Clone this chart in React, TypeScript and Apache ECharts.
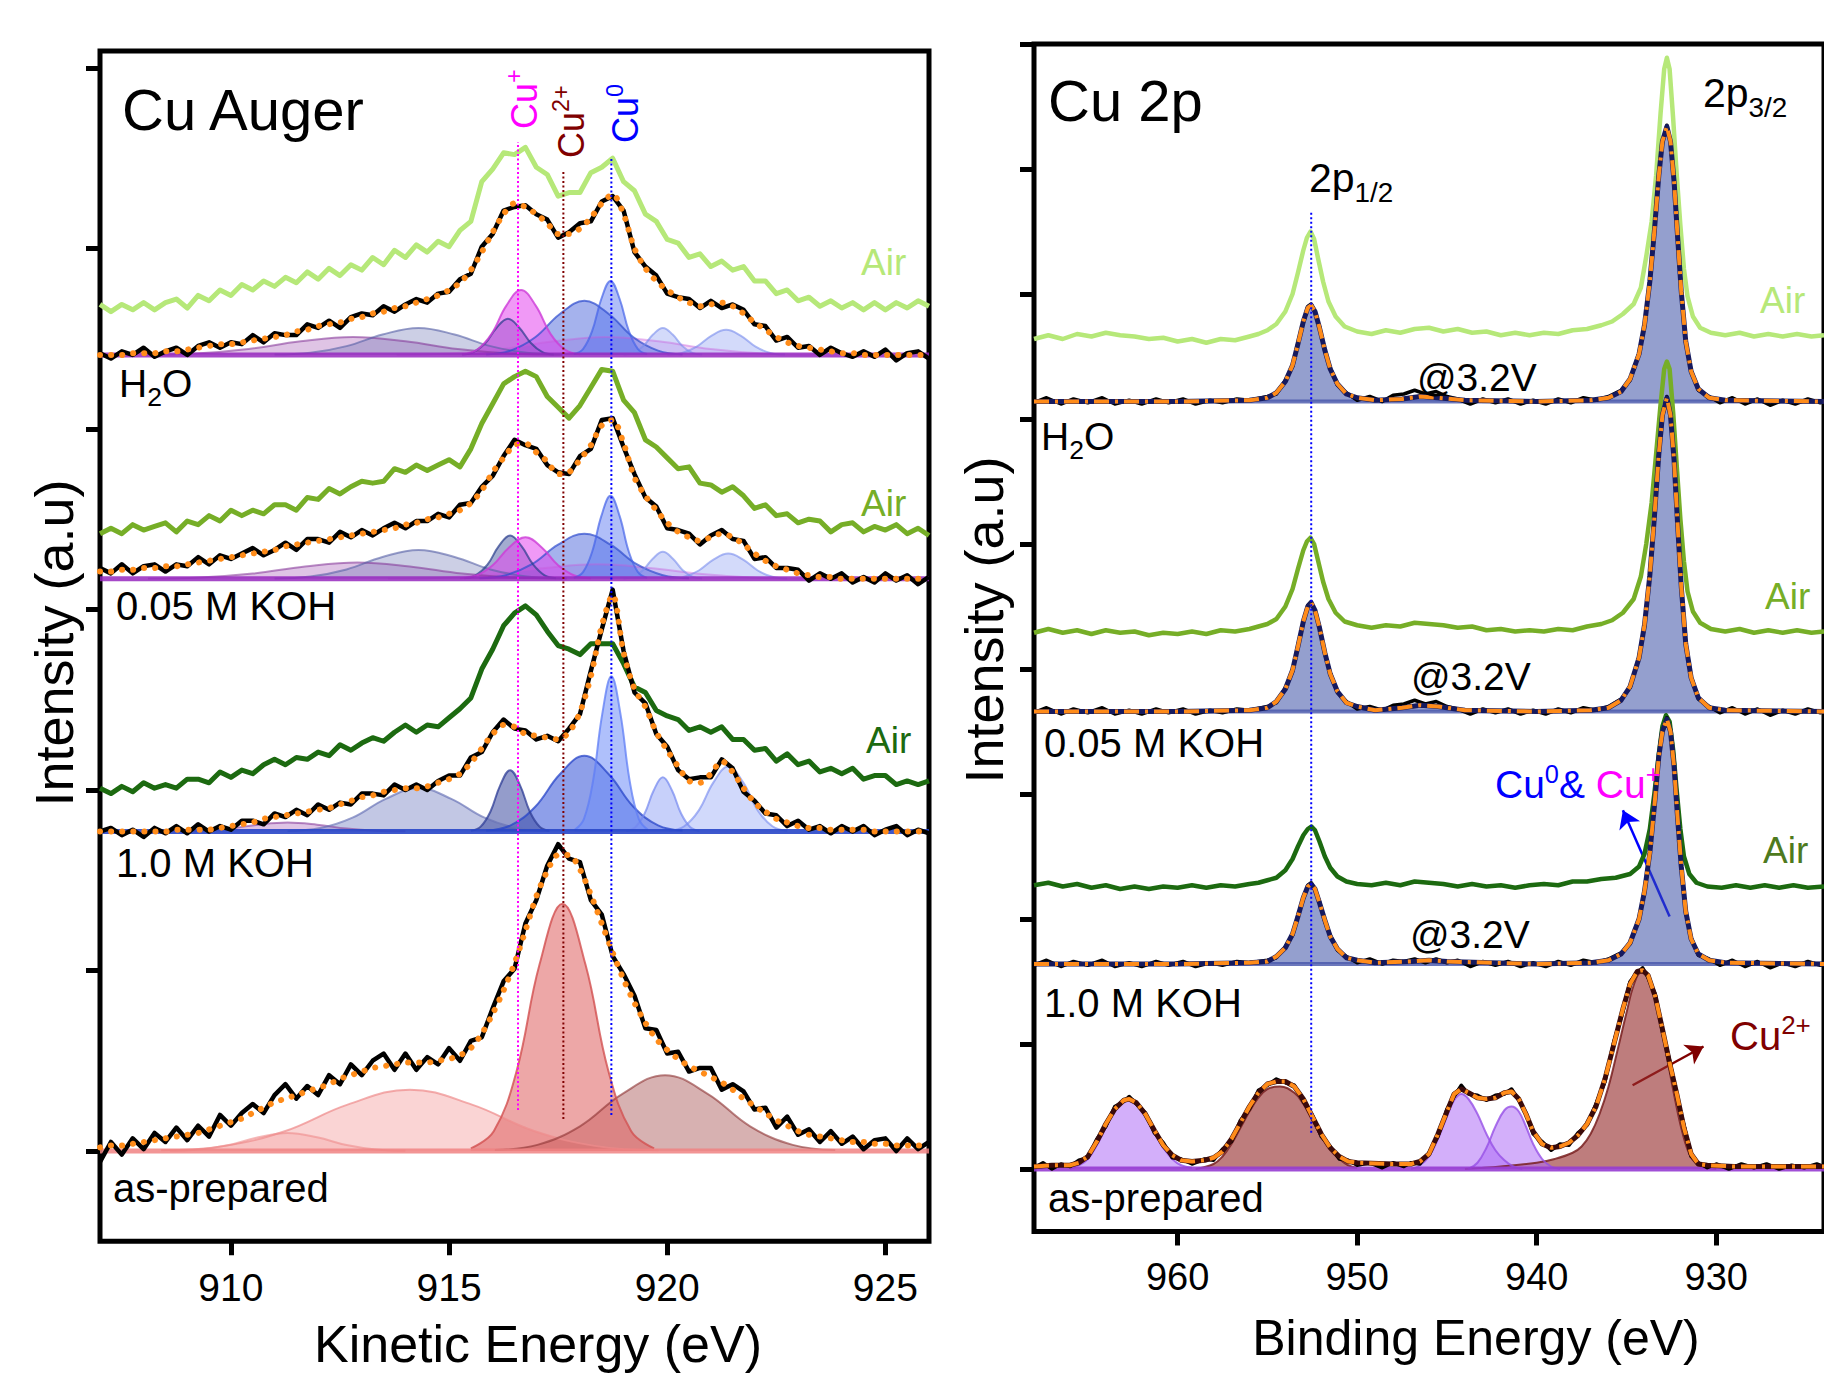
import React, { useEffect, useRef } from "react";
import * as echarts from "echarts";

const FONT = "'Liberation Sans', Arial, Helvetica, sans-serif";

// ================= Cu Auger (left panel) =================
const AUGER_E = [907,907.25,907.5,907.75,908,908.25,908.5,908.75,909,909.25,909.5,909.75,910,910.25,910.5,910.75,911,911.25,911.5,911.75,912,912.25,912.5,912.75,913,913.25,913.5,913.75,914,914.25,914.5,914.75,915,915.25,915.5,915.75,916,916.25,916.5,916.75,917,917.25,917.5,917.75,918,918.25,918.5,918.75,919,919.25,919.5,919.75,920,920.25,920.5,920.75,921,921.25,921.5,921.75,922,922.25,922.5,922.75,923,923.25,923.5,923.75,924,924.25,924.5,924.75,925,925.25,925.5,925.75,926];
const AUGER_TICKS = [910, 915, 920, 925];
const AUGER_YTICKS = [0, 1, 2, 3, 4, 5, 6];

// H2O stack
const AUG_H2O_BASE = 4.41;
const AUG_H2O_FIT = [4.41,4.41,4.41,4.42,4.42,4.42,4.43,4.43,4.44,4.45,4.46,4.47,4.47,4.48,4.49,4.50,4.51,4.52,4.54,4.55,4.57,4.58,4.59,4.61,4.62,4.64,4.65,4.67,4.68,4.70,4.72,4.74,4.77,4.81,4.88,4.98,5.09,5.19,5.25,5.23,5.19,5.14,5.08,5.08,5.11,5.17,5.25,5.30,5.19,5.00,4.89,4.82,4.77,4.73,4.70,4.68,4.69,4.70,4.68,4.64,4.59,4.55,4.51,4.48,4.46,4.45,4.44,4.43,4.42,4.42,4.41,4.41,4.41,4.41,4.41,4.41,4.41];
const AUG_H2O_DATA = [4.42,4.39,4.43,4.41,4.45,4.40,4.43,4.45,4.41,4.46,4.48,4.45,4.48,4.47,4.52,4.48,4.53,4.52,4.52,4.58,4.56,4.60,4.56,4.62,4.64,4.63,4.68,4.65,4.69,4.72,4.70,4.75,4.76,4.83,4.86,5.01,5.08,5.21,5.23,5.24,5.19,5.16,5.06,5.09,5.14,5.15,5.26,5.29,5.21,4.98,4.90,4.85,4.75,4.73,4.72,4.67,4.71,4.67,4.69,4.66,4.58,4.57,4.49,4.51,4.45,4.46,4.41,4.45,4.42,4.40,4.43,4.40,4.44,4.38,4.42,4.43,4.39];
const AUG_AIR1 = [4.69,4.65,4.69,4.66,4.70,4.66,4.70,4.72,4.67,4.74,4.71,4.77,4.74,4.80,4.77,4.82,4.79,4.84,4.81,4.87,4.83,4.89,4.85,4.91,4.88,4.95,4.91,4.99,4.95,5.02,4.98,5.04,5.01,5.10,5.15,5.37,5.44,5.53,5.52,5.56,5.45,5.41,5.29,5.31,5.31,5.42,5.45,5.50,5.37,5.32,5.19,5.15,5.05,5.03,4.95,4.97,4.90,4.93,4.88,4.90,4.82,4.82,4.75,4.77,4.71,4.73,4.68,4.71,4.67,4.70,4.66,4.70,4.66,4.70,4.67,4.71,4.68];
const AUG_H2O_PURPLE = [[908.0,.001],[909.2,.008],[910.4,.033],[911.6,.076],[912.8,.10],[914.0,.076],[915.2,.033],[916.4,.008],[917.6,.001]];
const AUG_H2O_GRAYBLUE = [[911.0,.002],[911.825,.012],[912.65,.049],[913.475,.113],[914.3,.15],[915.125,.113],[915.95,.049],[916.775,.012],[917.6,.002]];
const AUG_H2O_SLATE = [[915.3,.002],[915.56,.016],[915.83,.065],[916.09,.151],[916.35,.20],[916.61,.151],[916.88,.065],[917.14,.016],[917.4,.002]];
const AUG_H2O_CUP = [[915.3,.004],[915.64,.029],[915.975,.117],[916.31,.272],[916.65,.36],[916.99,.272],[917.325,.117],[917.66,.029],[918.0,.004]];
const AUG_H2O_BLUEB = [[915.85,.003],[916.41,.024],[916.975,.098],[917.54,.227],[918.1,.30],[918.66,.227],[919.225,.098],[919.79,.024],[920.35,.003]];
const AUG_H2O_CU0 = [[917.86,.005],[918.07,.033],[918.28,.133],[918.49,.310],[918.7,.41],[918.91,.310],[919.12,.133],[919.33,.033],[919.54,.005]];
const AUG_H2O_LB1 = [[919.0,.002],[919.225,.012],[919.45,.049],[919.675,.113],[919.9,.15],[920.125,.113],[920.35,.049],[920.575,.012],[920.8,.002]];
const AUG_H2O_LB2 = [[920.0,.002],[920.34,.011],[920.675,.046],[921.01,.106],[921.35,.14],[921.69,.106],[922.025,.046],[922.36,.011],[922.7,.002]];
const AUG_H2O_MAGB = [[913.8,.001],[915.0,.008],[916.2,.033],[917.4,.076],[918.6,.10],[919.8,.076],[921.0,.033],[922.2,.008],[923.4,.001]];

// 0.05 M KOH stack
const AUG_K005_BASE = 3.17;
const AUG_K005_FIT = [3.21,3.21,3.22,3.22,3.23,3.23,3.24,3.24,3.25,3.26,3.27,3.28,3.29,3.30,3.31,3.32,3.33,3.35,3.36,3.37,3.38,3.39,3.40,3.41,3.42,3.43,3.44,3.45,3.47,3.48,3.50,3.51,3.53,3.55,3.59,3.66,3.76,3.84,3.91,3.92,3.87,3.82,3.75,3.76,3.83,3.91,4.02,4.05,3.92,3.73,3.63,3.55,3.48,3.43,3.40,3.38,3.40,3.42,3.40,3.36,3.31,3.27,3.24,3.22,3.20,3.19,3.18,3.18,3.17,3.17,3.17,3.17,3.17,3.17,3.17,3.17,3.17];
const AUG_K005_DATA = [3.23,3.20,3.25,3.20,3.24,3.25,3.21,3.25,3.24,3.29,3.25,3.30,3.28,3.31,3.34,3.30,3.33,3.37,3.33,3.39,3.39,3.37,3.43,3.40,3.44,3.41,3.45,3.48,3.45,3.49,3.49,3.53,3.51,3.58,3.59,3.68,3.74,3.85,3.94,3.91,3.89,3.80,3.76,3.75,3.85,3.89,4.05,4.06,3.90,3.75,3.62,3.57,3.45,3.44,3.42,3.36,3.41,3.44,3.39,3.38,3.28,3.29,3.23,3.23,3.22,3.16,3.20,3.17,3.20,3.15,3.18,3.15,3.20,3.16,3.19,3.14,3.18];
const AUG_AIR2 = [3.42,3.45,3.42,3.47,3.44,3.46,3.48,3.43,3.49,3.47,3.52,3.49,3.55,3.52,3.55,3.53,3.58,3.58,3.55,3.62,3.61,3.67,3.64,3.68,3.71,3.70,3.71,3.78,3.76,3.80,3.77,3.80,3.83,3.79,3.89,4.03,4.14,4.25,4.29,4.32,4.29,4.18,4.12,4.06,4.13,4.23,4.33,4.32,4.16,4.09,3.94,3.90,3.84,3.78,3.79,3.70,3.69,3.65,3.68,3.63,3.56,3.58,3.52,3.53,3.48,3.50,3.49,3.43,3.47,3.48,3.43,3.46,3.44,3.47,3.42,3.45,3.41];
const AUG_K005_PURPLE = [[908.1,.001],[909.3,.007],[910.5,.029],[911.7,.068],[912.9,.09],[914.1,.068],[915.3,.029],[916.5,.007],[917.7,.001]];
const AUG_K005_GRAYBLUE = [[911.0,.002],[911.825,.013],[912.65,.052],[913.475,.121],[914.3,.16],[915.125,.121],[915.95,.052],[916.775,.013],[917.6,.002]];
const AUG_K005_SLATE = [[915.35,.003],[915.61,.019],[915.88,.078],[916.14,.181],[916.4,.24],[916.66,.181],[916.93,.078],[917.19,.019],[917.45,.003]];
const AUG_K005_CUP = [[915.25,.003],[915.625,.018],[916.0,.075],[916.375,.174],[916.75,.23],[917.125,.174],[917.5,.075],[917.875,.018],[918.25,.003]];
const AUG_K005_BLUEB = [[915.7,.003],[916.3,.020],[916.9,.081],[917.5,.189],[918.1,.25],[918.7,.189],[919.3,.081],[919.9,.020],[920.5,.003]];
const AUG_K005_CU0 = [[917.86,.005],[918.07,.037],[918.28,.150],[918.49,.347],[918.7,.46],[918.91,.347],[919.12,.150],[919.33,.037],[919.54,.005]];
const AUG_K005_LB1 = [[919.0,.002],[919.225,.012],[919.45,.049],[919.675,.113],[919.9,.15],[920.125,.113],[920.35,.049],[920.575,.012],[920.8,.002]];
const AUG_K005_LB2 = [[920.05,.002],[920.39,.011],[920.725,.046],[921.06,.106],[921.4,.14],[921.74,.106],[922.075,.046],[922.41,.011],[922.75,.002]];
const AUG_K005_MAGB = [[913.6,.001],[914.8,.006],[916.0,.026],[917.2,.060],[918.4,.08],[919.6,.060],[920.8,.026],[922.0,.006],[923.2,.001]];

// 1.0 M KOH stack
const AUG_K10_BASE = 1.77;
const AUG_K10_FIT = [1.77,1.77,1.77,1.77,1.77,1.77,1.77,1.78,1.78,1.78,1.78,1.79,1.80,1.81,1.82,1.84,1.85,1.86,1.87,1.88,1.89,1.90,1.92,1.94,1.96,1.97,1.99,2.00,2.01,2.01,2.02,2.04,2.06,2.09,2.15,2.23,2.31,2.36,2.35,2.31,2.30,2.29,2.28,2.32,2.43,2.63,2.91,3.08,2.76,2.56,2.46,2.32,2.22,2.13,2.05,2.04,2.09,2.16,2.10,2.01,1.93,1.88,1.84,1.82,1.80,1.79,1.79,1.78,1.78,1.78,1.78,1.77,1.77,1.77,1.77,1.77,1.77];
const AUG_K10_DATA = [1.77,1.79,1.75,1.78,1.74,1.79,1.76,1.80,1.76,1.81,1.77,1.80,1.78,1.83,1.83,1.81,1.87,1.85,1.89,1.86,1.92,1.89,1.93,1.92,1.98,1.98,1.97,2.03,2.00,2.03,2.00,2.05,2.08,2.08,2.18,2.21,2.32,2.39,2.34,2.33,2.28,2.30,2.27,2.34,2.42,2.66,2.89,3.11,2.77,2.54,2.48,2.31,2.24,2.11,2.06,2.07,2.07,2.17,2.12,1.99,1.94,1.87,1.86,1.80,1.83,1.78,1.80,1.76,1.80,1.77,1.80,1.75,1.78,1.80,1.75,1.78,1.76];
const AUG_AIR3 = [2.01,1.98,2.02,1.99,2.04,2.01,2.03,2.01,2.06,2.06,2.04,2.10,2.07,2.11,2.09,2.14,2.17,2.14,2.18,2.17,2.21,2.19,2.25,2.22,2.26,2.29,2.27,2.32,2.36,2.32,2.36,2.35,2.40,2.45,2.51,2.67,2.78,2.91,2.98,3.02,2.97,2.88,2.80,2.78,2.75,2.81,2.81,2.81,2.70,2.57,2.54,2.44,2.41,2.39,2.33,2.35,2.32,2.35,2.28,2.28,2.22,2.23,2.16,2.20,2.14,2.16,2.10,2.12,2.09,2.12,2.06,2.08,2.08,2.03,2.05,2.03,2.05];
const AUG_K10_GRAYBLUE = [[911.3,.003],[912.05,.019],[912.8,.078],[913.55,.181],[914.3,.24],[915.05,.181],[915.8,.078],[916.55,.019],[917.3,.003]];
const AUG_K10_SLATE = [[915.5,.004],[915.725,.027],[915.95,.111],[916.175,.257],[916.4,.34],[916.625,.257],[916.85,.111],[917.075,.027],[917.3,.004]];
const AUG_K10_BLUEB = [[915.85,.005],[916.41,.034],[916.975,.137],[917.54,.317],[918.1,.42],[918.66,.317],[919.225,.137],[919.79,.034],[920.35,.005]];
const AUG_K10_CU0 = [[917.88,.009],[918.09,.069],[918.3,.280],[918.51,.649],[918.72,.86],[918.93,.649],[919.14,.280],[919.35,.069],[919.56,.009]];
const AUG_K10_LB1 = [[919.06,.003],[919.27,.024],[919.48,.098],[919.69,.227],[919.9,.30],[920.11,.227],[920.32,.098],[920.53,.024],[920.74,.003]];
const AUG_K10_LB2 = [[920.05,.004],[920.39,.029],[920.725,.117],[921.06,.272],[921.4,.36],[921.74,.272],[922.075,.117],[922.41,.029],[922.75,.004]];
const AUG_K10_FAINT = [[908.6,.001],[909.275,.004],[909.95,.016],[910.625,.038],[911.3,.05],[911.975,.038],[912.65,.016],[913.325,.004],[914.0,.001]];

// as-prepared stack
const AUG_AP_BASE = 0;
const AUG_AP_FIT = [0.02,0.03,0.03,0.04,0.05,0.06,0.07,0.08,0.09,0.10,0.12,0.14,0.16,0.18,0.21,0.24,0.27,0.29,0.31,0.33,0.35,0.37,0.40,0.42,0.44,0.46,0.47,0.48,0.49,0.49,0.49,0.50,0.51,0.53,0.57,0.65,0.76,0.89,1.04,1.22,1.41,1.55,1.64,1.64,1.56,1.42,1.26,1.10,0.95,0.82,0.71,0.62,0.56,0.51,0.47,0.44,0.41,0.38,0.34,0.29,0.25,0.21,0.17,0.14,0.11,0.09,0.08,0.07,0.06,0.05,0.05,0.04,0.04,0.03,0.03,0.03,0.03];
const AUG_AP_DATA = [-0.06,0.05,-0.02,0.07,0.01,0.10,0.05,0.13,0.06,0.14,0.08,0.20,0.14,0.21,0.26,0.21,0.31,0.37,0.29,0.36,0.31,0.42,0.37,0.48,0.42,0.50,0.54,0.45,0.54,0.45,0.52,0.48,0.57,0.50,0.61,0.63,0.79,0.94,1.01,1.26,1.39,1.58,1.70,1.62,1.60,1.39,1.31,1.08,0.98,0.86,0.68,0.67,0.54,0.55,0.44,0.46,0.46,0.34,0.37,0.33,0.23,0.24,0.13,0.19,0.09,0.12,0.05,0.11,0.04,0.08,0.01,0.06,0.07,0.00,0.07,0.01,0.05];
const AUG_AP_PINKS = [[908.6,.001],[909.275,.008],[909.95,.033],[910.625,.076],[911.3,.10],[911.975,.076],[912.65,.033],[913.325,.008],[914.0,.001]];
const AUG_AP_PINKB = [[908.4,.004],[909.825,.027],[911.25,.111],[912.675,.257],[914.1,.34],[915.525,.257],[916.95,.111],[918.375,.027],[919.8,.004]];
const AUG_AP_RED = [[915.5,.015],[916.025,.110],[916.55,.445],[917.075,1.034],[917.6,1.37],[918.125,1.034],[918.65,.445],[919.175,.110],[919.7,.015]];
const AUG_AP_DARKRED = [[916.05,.005],[917.025,.034],[918.0,.137],[918.975,.317],[919.95,.42],[920.925,.317],[921.9,.137],[922.875,.034],[923.85,.005]];

// reference lines (Cu+, Cu2+, Cu0 kinetic energies)
const AUG_CUP_LINE = [[916.58, 0.227], [916.58, 5.59]];
const AUG_CU2_LINE = [[917.62, 0.177], [917.62, 5.435]];
const AUG_CU0_LINE = [[918.72, 0.2], [918.72, 5.5]];

// ================= Cu 2p (right panel) =================
const XPS_TICKS = [960, 950, 940, 930];
const XPS_YTICKS = [0, 1, 2, 3, 4, 5, 6, 7, 8, 9];

const XPS_AIR1 = [[968,6.64],[967.2,6.67],[966.4,6.64],[965.6,6.68],[964.8,6.66],[964,6.69],[963.2,6.67],[962.4,6.66],[961.6,6.64],[960.8,6.65],[960,6.62],[959.2,6.64],[958.4,6.61],[957.6,6.64],[956.8,6.63],[956,6.66],[955.5,6.68],[955,6.71],[954.5,6.76],[954,6.86],[953.6,7.00],[953.3,7.17],[953,7.35],[952.8,7.45],[952.6,7.50],[952.4,7.44],[952.2,7.30],[951.9,7.10],[951.6,6.94],[951.2,6.82],[950.7,6.74],[950,6.70],[949.2,6.68],[948.4,6.71],[947.6,6.69],[946.8,6.72],[946,6.73],[945.2,6.70],[944.4,6.72],[943.6,6.69],[942.8,6.70],[942,6.67],[941.2,6.69],[940.4,6.67],[939.6,6.69],[938.8,6.68],[938,6.71],[937.2,6.72],[936.4,6.75],[935.8,6.78],[935.2,6.84],[934.6,6.92],[934.2,7.05],[933.9,7.30],[933.6,7.58],[933.35,7.95],[933.1,8.45],[932.9,8.80],[932.75,8.89],[932.6,8.80],[932.4,8.40],[932.2,7.95],[932,7.55],[931.8,7.20],[931.6,6.98],[931.3,6.82],[930.9,6.73],[930.3,6.69],[929.5,6.67],[928.7,6.69],[927.9,6.66],[927.1,6.68],[926.3,6.66],[925.5,6.68],[924.7,6.66],[924,6.67]];
const XPS_H2O_BASE = 6.14;
const XPS_H2O_FIT = [[968,6.14],[960,6.14],[956,6.15],[955,6.17],[954.5,6.21],[954,6.30],[953.6,6.43],[953.3,6.60],[953,6.78],[952.75,6.89],[952.56,6.91],[952.35,6.86],[952.1,6.73],[951.8,6.55],[951.5,6.40],[951.1,6.28],[950.6,6.20],[950,6.17],[949,6.15],[947.5,6.16],[946.5,6.18],[945.5,6.17],[944,6.15],[940,6.14],[937,6.15],[936,6.17],[935.3,6.22],[934.8,6.32],[934.3,6.52],[934,6.75],[933.7,7.10],[933.45,7.50],[933.2,7.95],[933,8.22],[932.75,8.34],[932.55,8.22],[932.35,7.90],[932.15,7.45],[931.95,7.02],[931.7,6.62],[931.4,6.38],[931,6.24],[930.4,6.17],[929.5,6.15],[924,6.14]];
const XPS_H2O_DATA = [[968,6.13],[967.3,6.17],[966.5,6.12],[965.8,6.16],[965,6.13],[964.2,6.17],[963.5,6.12],[962.7,6.15],[962,6.12],[961.2,6.16],[960.5,6.13],[959.7,6.16],[959,6.12],[958.2,6.15],[957.5,6.13],[956.7,6.16],[956,6.15],[955,6.18],[954.5,6.20],[954,6.31],[953.6,6.42],[953.3,6.61],[953,6.77],[952.75,6.90],[952.56,6.92],[952.35,6.85],[952.1,6.74],[951.8,6.54],[951.5,6.41],[951.1,6.27],[950.6,6.21],[950,6.15],[949.3,6.18],[948.6,6.14],[948,6.19],[947.4,6.20],[946.8,6.23],[946.2,6.20],[945.6,6.22],[945,6.18],[944.4,6.16],[943.7,6.12],[943,6.16],[942.3,6.13],[941.6,6.16],[940.9,6.12],[940.2,6.15],[939.5,6.12],[938.8,6.16],[938.1,6.13],[937.4,6.17],[936.7,6.15],[936,6.18],[935.3,6.23],[934.8,6.31],[934.3,6.53],[934,6.74],[933.7,7.11],[933.45,7.49],[933.2,7.96],[933,8.21],[932.75,8.35],[932.55,8.21],[932.35,7.91],[932.15,7.44],[931.95,7.03],[931.7,6.61],[931.4,6.39],[931,6.23],[930.4,6.18],[929.8,6.13],[929.1,6.17],[928.4,6.12],[927.7,6.16],[927,6.11],[926.3,6.15],[925.6,6.12],[924.9,6.16],[924.2,6.13],[924,6.14]];

const XPS_AIR2 = [[968,4.29],[967.2,4.32],[966.4,4.29],[965.6,4.31],[964.8,4.28],[964,4.31],[963.2,4.29],[962.4,4.30],[961.6,4.27],[960.8,4.29],[960,4.28],[959.2,4.30],[958.4,4.28],[957.6,4.31],[956.8,4.30],[956,4.32],[955.5,4.34],[955,4.36],[954.5,4.40],[954,4.50],[953.6,4.64],[953.3,4.80],[953,4.95],[952.8,5.02],[952.6,5.05],[952.4,5.00],[952.2,4.88],[951.9,4.70],[951.6,4.56],[951.2,4.45],[950.7,4.38],[950,4.35],[949.2,4.33],[948.4,4.35],[947.6,4.34],[946.8,4.37],[946,4.36],[945.2,4.35],[944.4,4.33],[943.6,4.34],[942.8,4.31],[942,4.32],[941.2,4.30],[940.4,4.31],[939.6,4.30],[938.8,4.32],[938,4.31],[937.2,4.34],[936.4,4.36],[935.8,4.39],[935.2,4.45],[934.6,4.56],[934.2,4.74],[933.9,5.00],[933.6,5.33],[933.35,5.72],[933.1,6.12],[932.9,6.40],[932.75,6.46],[932.6,6.40],[932.4,6.05],[932.2,5.62],[932,5.20],[931.8,4.86],[931.6,4.62],[931.3,4.46],[930.9,4.37],[930.3,4.32],[929.5,4.30],[928.7,4.32],[927.9,4.29],[927.1,4.31],[926.3,4.29],[925.5,4.31],[924.7,4.29],[924,4.30]];
const XPS_K005_BASE = 3.66;
const XPS_K005_FIT = [[968,3.66],[960,3.66],[956,3.67],[955,3.69],[954.5,3.74],[954,3.84],[953.6,3.99],[953.3,4.18],[953,4.38],[952.75,4.50],[952.56,4.53],[952.35,4.47],[952.1,4.33],[951.8,4.13],[951.5,3.96],[951.1,3.82],[950.6,3.73],[950,3.70],[949,3.67],[947.5,3.69],[946.5,3.71],[945.5,3.70],[944,3.67],[940,3.66],[937,3.67],[936,3.69],[935.3,3.75],[934.8,3.86],[934.3,4.09],[934,4.35],[933.7,4.75],[933.45,5.21],[933.2,5.72],[933,6.03],[932.75,6.17],[932.55,6.03],[932.35,5.67],[932.15,5.15],[931.95,4.66],[931.7,4.20],[931.4,3.93],[931,3.77],[930.4,3.69],[929.5,3.67],[924,3.66]];
const XPS_K005_DATA = [[968,3.65],[967.3,3.69],[966.5,3.64],[965.8,3.68],[965,3.65],[964.2,3.69],[963.5,3.64],[962.7,3.67],[962,3.64],[961.2,3.68],[960.5,3.65],[959.7,3.68],[959,3.64],[958.2,3.67],[957.5,3.65],[956.7,3.68],[956,3.67],[955,3.70],[954.5,3.73],[954,3.85],[953.6,3.98],[953.3,4.19],[953,4.37],[952.75,4.51],[952.56,4.54],[952.35,4.46],[952.1,4.34],[951.8,4.12],[951.5,3.97],[951.1,3.81],[950.6,3.74],[950,3.68],[949.3,3.70],[948.6,3.67],[948,3.71],[947.4,3.72],[946.8,3.75],[946.2,3.72],[945.6,3.74],[945,3.70],[944.4,3.68],[943.7,3.64],[943,3.68],[942.3,3.65],[941.6,3.68],[940.9,3.64],[940.2,3.67],[939.5,3.64],[938.8,3.68],[938.1,3.65],[937.4,3.69],[936.7,3.67],[936,3.70],[935.3,3.76],[934.8,3.85],[934.3,4.10],[934,4.34],[933.7,4.76],[933.45,5.20],[933.2,5.73],[933,6.02],[932.75,6.18],[932.55,6.02],[932.35,5.68],[932.15,5.14],[931.95,4.67],[931.7,4.19],[931.4,3.94],[931,3.76],[930.4,3.70],[929.8,3.65],[929.1,3.69],[928.4,3.64],[927.7,3.68],[927,3.63],[926.3,3.67],[925.6,3.64],[924.9,3.68],[924.2,3.65],[924,3.66]];

const XPS_AIR3 = [[968,2.27],[967.2,2.29],[966.4,2.26],[965.6,2.28],[964.8,2.25],[964,2.27],[963.2,2.24],[962.4,2.26],[961.6,2.24],[960.8,2.26],[960,2.25],[959.2,2.27],[958.4,2.25],[957.6,2.27],[956.8,2.26],[956,2.28],[955.5,2.29],[955,2.31],[954.5,2.33],[954,2.39],[953.6,2.48],[953.3,2.58],[953,2.67],[952.75,2.72],[952.55,2.74],[952.35,2.71],[952.1,2.62],[951.8,2.50],[951.5,2.41],[951.1,2.34],[950.6,2.30],[950,2.28],[949.2,2.27],[948.4,2.29],[947.6,2.27],[946.8,2.30],[946,2.29],[945.2,2.28],[944.4,2.26],[943.6,2.28],[942.8,2.26],[942,2.27],[941.2,2.25],[940.4,2.27],[939.6,2.28],[938.8,2.27],[938,2.30],[937.2,2.30],[936.4,2.32],[935.6,2.33],[934.8,2.36],[934.3,2.42],[934,2.52],[933.7,2.72],[933.45,3.00],[933.2,3.32],[933,3.54],[932.8,3.63],[932.6,3.58],[932.4,3.35],[932.2,3.02],[932,2.72],[931.8,2.50],[931.5,2.36],[931.1,2.29],[930.5,2.26],[929.7,2.25],[928.9,2.27],[928.1,2.25],[927.3,2.27],[926.5,2.25],[925.7,2.27],[924.9,2.25],[924,2.26]];
const XPS_K10_BASE = 1.64;
const XPS_K10_FIT = [[968,1.64],[960,1.64],[956,1.65],[955,1.66],[954.5,1.70],[954,1.77],[953.6,1.88],[953.3,2.02],[953,2.17],[952.75,2.26],[952.56,2.28],[952.35,2.24],[952.1,2.13],[951.8,1.99],[951.5,1.86],[951.1,1.76],[950.6,1.69],[950,1.67],[949,1.65],[947,1.66],[946,1.67],[945,1.66],[940,1.64],[937,1.65],[936,1.67],[935.3,1.72],[934.8,1.81],[934.3,2.00],[934,2.22],[933.7,2.53],[933.45,2.90],[933.2,3.30],[933,3.50],[932.75,3.60],[932.55,3.50],[932.35,3.22],[932.15,2.80],[931.95,2.42],[931.7,2.06],[931.4,1.84],[931,1.72],[930.4,1.67],[929.5,1.65],[924,1.64]];
const XPS_K10_DATA = [[968,1.63],[967.3,1.67],[966.5,1.62],[965.8,1.66],[965,1.63],[964.2,1.67],[963.5,1.62],[962.7,1.65],[962,1.62],[961.2,1.66],[960.5,1.63],[959.7,1.66],[959,1.62],[958.2,1.65],[957.5,1.63],[956.7,1.66],[956,1.65],[955,1.67],[954.5,1.69],[954,1.78],[953.6,1.87],[953.3,2.03],[953,2.16],[952.75,2.27],[952.56,2.29],[952.35,2.23],[952.1,2.14],[951.8,1.98],[951.5,1.87],[951.1,1.75],[950.6,1.70],[950,1.65],[949.3,1.68],[948.6,1.64],[948,1.67],[947.4,1.66],[946.8,1.68],[946.2,1.65],[945.6,1.68],[945,1.65],[944.4,1.67],[943.7,1.62],[943,1.66],[942.3,1.63],[941.6,1.66],[940.9,1.62],[940.2,1.65],[939.5,1.62],[938.8,1.66],[938.1,1.63],[937.4,1.67],[936.7,1.65],[936,1.68],[935.3,1.73],[934.8,1.80],[934.3,2.01],[934,2.21],[933.7,2.54],[933.45,2.89],[933.2,3.31],[933,3.49],[932.75,3.61],[932.55,3.49],[932.35,3.23],[932.15,2.79],[931.95,2.43],[931.7,2.05],[931.4,1.85],[931,1.71],[930.4,1.68],[929.8,1.63],[929.1,1.67],[928.4,1.62],[927.7,1.66],[927,1.61],[926.3,1.65],[925.6,1.62],[924.9,1.66],[924.2,1.63],[924,1.64]];

const XPS_AP_BASE = 0;
const XPS_AP_FIT = [[968,0.02],[967,0.03],[966,0.03],[965.5,0.05],[965,0.10],[964.5,0.22],[964,0.36],[963.5,0.48],[963,0.55],[962.7,0.56],[962.3,0.53],[961.8,0.44],[961.3,0.31],[960.8,0.19],[960.3,0.11],[959.8,0.07],[959.2,0.06],[958.5,0.07],[958,0.09],[957.5,0.14],[957,0.24],[956.5,0.37],[956,0.50],[955.5,0.61],[955,0.68],[954.5,0.70],[954,0.70],[953.5,0.66],[953,0.56],[952.5,0.42],[952,0.28],[951.5,0.17],[951,0.10],[950.5,0.06],[950,0.05],[948,0.04],[947,0.04],[946.5,0.06],[946,0.12],[945.5,0.28],[945,0.46],[944.6,0.60],[944.2,0.64],[943.8,0.61],[943.3,0.57],[942.8,0.56],[942.3,0.57],[941.8,0.61],[941.4,0.62],[941,0.56],[940.6,0.44],[940.2,0.30],[939.7,0.20],[939.2,0.17],[938.7,0.18],[938.2,0.21],[937.7,0.27],[937.2,0.36],[936.7,0.50],[936.2,0.72],[935.7,1.00],[935.2,1.28],[934.8,1.48],[934.4,1.58],[934.1,1.59],[933.8,1.55],[933.4,1.38],[933,1.12],[932.6,0.85],[932.2,0.60],[931.8,0.33],[931.4,0.12],[931,0.04],[930.5,0.03],[929,0.02],[927,0.02],[924,0.02]];
const XPS_AP_DATA = [[968,0.01],[967.5,0.05],[967,0.00],[966.5,0.04],[966,0.02],[965.5,0.07],[965,0.09],[964.5,0.24],[964,0.34],[963.5,0.50],[963,0.54],[962.7,0.58],[962.3,0.52],[961.8,0.45],[961.3,0.29],[960.8,0.21],[960.3,0.09],[959.8,0.08],[959.2,0.04],[958.5,0.08],[958,0.07],[957.5,0.16],[957,0.22],[956.5,0.39],[956,0.48],[955.5,0.63],[955,0.67],[954.5,0.72],[954,0.69],[953.5,0.67],[953,0.54],[952.5,0.43],[952,0.26],[951.5,0.18],[951,0.08],[950.5,0.07],[950,0.03],[949.3,0.05],[948.6,0.01],[948,0.05],[947.4,0.02],[947,0.05],[946.5,0.04],[946,0.13],[945.5,0.26],[945,0.48],[944.6,0.58],[944.2,0.67],[943.8,0.60],[943.3,0.59],[942.8,0.55],[942.3,0.59],[941.8,0.60],[941.4,0.64],[941,0.55],[940.6,0.45],[940.2,0.28],[939.7,0.22],[939.2,0.15],[938.7,0.20],[938.2,0.19],[937.7,0.29],[937.2,0.35],[936.7,0.52],[936.2,0.70],[935.7,1.02],[935.2,1.26],[934.8,1.50],[934.4,1.57],[934.1,1.61],[933.8,1.53],[933.4,1.40],[933,1.10],[932.6,0.87],[932.2,0.58],[931.8,0.35],[931.4,0.10],[931,0.05],[930.5,0.01],[930,0.04],[929.3,0.00],[928.6,0.04],[927.9,0.01],[927.2,0.04],[926.5,0.00],[925.8,0.03],[925.1,0.01],[924.4,0.04],[924,0.02]];
const XPS_AP_PURPLE1 = [[966,0],[965.5,.03],[965,.08],[964.5,.19],[964,.33],[963.5,.46],[963,.54],[962.7,.55],[962.3,.52],[961.8,.42],[961.3,.29],[960.8,.17],[960.3,.08],[959.8,.03],[959.2,.01]];
const XPS_AP_BROWN1 = [[959,0],[958,.04],[957.5,.10],[957,.20],[956.5,.33],[956,.46],[955.5,.57],[955,.64],[954.3,.66],[953.5,.61],[953,.52],[952.5,.39],[952,.26],[951.5,.15],[951,.08],[950.5,.03],[950,.01]];
const XPS_AP_PURPLE2 = [[947,0],[946.5,.03],[946,.10],[945.5,.24],[945,.42],[944.6,.55],[944.2,.60],[943.8,.56],[943.3,.44],[942.8,.28],[942.3,.15],[941.8,.07],[941.3,.02],[940.8,0]];
const XPS_AP_PURPLE3 = [[943.8,0],[943.3,.05],[942.8,.17],[942.3,.34],[941.8,.47],[941.4,.50],[941,.46],[940.6,.34],[940.2,.20],[939.7,.08],[939.2,.02],[938.7,0]];
const XPS_AP_BROWN2 = [[944,0],[942,.02],[940,.05],[939,.08],[938,.13],[937.5,.18],[937,.28],[936.5,.44],[936,.66],[935.5,.95],[935,1.25],[934.6,1.47],[934.2,1.57],[933.9,1.55],[933.5,1.42],[933.1,1.16],[932.7,.86],[932.3,.56],[931.9,.30],[931.5,.12],[931.1,.04],[930.6,.01],[930,0]];

const XPS_2P12_LINE = [[952.56, 0.29], [952.56, 7.67]];
const XPS_ARROW_CU0 = [[932.6, 2.02], [935.2, 2.87]];
const XPS_ARROW_CU2 = [[934.66, 0.67], [930.71, 0.98]];

// ================= helpers =================
const zip = (xs: number[], ys: number[]) => xs.map((x, i) => [x, ys[i]]);
const lift = (pairs: number[][], base: number) => pairs.map(([x, h]) => [x, +(base + h).toFixed(4)]);

function line(data: any[], gi: number, color: string, width: number, opts: any = {}) {
  const s: any = {
    type: "line",
    xAxisIndex: gi,
    yAxisIndex: gi,
    data,
    symbol: "none",
    showSymbol: false,
    silent: true,
    smooth: opts.smooth ?? 0,
    lineStyle: { color, width, type: opts.type ?? "solid", cap: opts.cap ?? "butt", join: "round" },
  };
  if (opts.area) s.areaStyle = opts.area;
  return s;
}
function comp(pairs: number[][], base: number, gi: number, fill: string, stroke: string) {
  return line(lift(pairs, base), gi, stroke, 2, { smooth: 0.4, area: { color: fill, origin: base, opacity: 1 } });
}
function baseLine(base: number, x0: number, x1: number, gi: number, color: string, width: number) {
  return line([[x0, base], [x1, base]], gi, color, width);
}

const T = (text: string, x: number, baseline: number, fs: number, fill = "#000", rich?: any) => ({
  type: "text",
  x,
  y: baseline - 0.347 * fs,
  z: 100,
  silent: true,
  style: {
    text, fontSize: fs, fontFamily: FONT, fill,
    align: "left", verticalAlign: "middle", textAlign: "left", textVerticalAlign: "middle",
    ...(rich ? { rich } : {}),
  },
});
const supRich = (fs: number, fill: string, supFill = fill) => ({
  m: { fontSize: fs, fontFamily: FONT, fill, lineHeight: fs * 1.2, verticalAlign: "middle" },
  s: { fontSize: fs * 0.65, fontFamily: FONT, fill: supFill, lineHeight: fs * 0.65, verticalAlign: "top" },
});
const subRich = (fs: number, fill: string, lh = 1.42) => ({
  m: { fontSize: fs, fontFamily: FONT, fill, lineHeight: fs * lh, verticalAlign: "middle" },
  s: { fontSize: fs * 0.68, fontFamily: FONT, fill, lineHeight: fs * 0.7, verticalAlign: "bottom" },
});
const RT = (text: string, x: number, y: number, fs: number, fill: string, rich: any, align = "left") => ({
  type: "text",
  x,
  y,
  rotation: Math.PI / 2,
  z: 100,
  silent: true,
  style: {
    text, fontSize: fs, fontFamily: FONT, fill, rich,
    align, verticalAlign: "middle", textAlign: align, textVerticalAlign: "middle",
  },
});
const CT = (text: string, cx: number, baseline: number, fs: number) => ({
  type: "text",
  x: cx,
  y: baseline - 0.347 * fs,
  z: 100,
  silent: true,
  style: { text, fontSize: fs, fontFamily: FONT, fill: "#000", align: "center", verticalAlign: "middle", textAlign: "center", textVerticalAlign: "middle" },
});

// colors
const C_ORANGE = "#ff8c1a";
const C_AIR1 = "#b6e879";
const C_AIR2 = "#76ae27";
const C_AIR3 = "#1c6a10";
const C_NAVY = "#161a5e";

function buildOption() {
  const series: any[] = [];
  const L = 0;
  const R = 1;
  const dotted = { type: [0.1, 11], cap: "round" };

  // ---- left components ----
  const pPurple = ["rgba(150,60,170,0.30)", "rgba(130,50,150,0.55)"];
  const pGray = ["rgba(95,105,175,0.32)", "rgba(85,95,165,0.6)"];
  const pSlate = ["rgba(50,70,150,0.45)", "rgba(40,60,140,0.7)"];
  const pMag = ["rgba(228,70,238,0.55)", "rgba(205,60,215,0.8)"];
  const pBlueB = ["rgba(55,85,215,0.45)", "rgba(45,75,205,0.7)"];
  const pCu0 = ["rgba(80,110,240,0.45)", "rgba(70,100,232,0.7)"];
  const pLB = ["rgba(130,150,242,0.35)", "rgba(120,140,236,0.6)"];
  const pMagB = ["rgba(210,100,225,0.25)", "rgba(200,90,220,0.4)"];

  const stackComps = (base: number, list: [number[][], string[]][]) => {
    list.forEach(([d, c]) => series.push(comp(d, base, L, c[0], c[1])));
  };
  stackComps(AUG_H2O_BASE, [
    [AUG_H2O_MAGB, pMagB], [AUG_H2O_PURPLE, pPurple], [AUG_H2O_GRAYBLUE, pGray], [AUG_H2O_BLUEB, pBlueB],
    [AUG_H2O_LB1, pLB], [AUG_H2O_LB2, pLB], [AUG_H2O_SLATE, pSlate], [AUG_H2O_CUP, pMag], [AUG_H2O_CU0, pCu0],
  ]);
  series.push(baseLine(AUG_H2O_BASE, 907, 926, L, "rgba(150,40,190,0.85)", 5));
  stackComps(AUG_K005_BASE, [
    [AUG_K005_MAGB, pMagB], [AUG_K005_PURPLE, pPurple], [AUG_K005_GRAYBLUE, pGray], [AUG_K005_BLUEB, pBlueB],
    [AUG_K005_LB1, pLB], [AUG_K005_LB2, pLB], [AUG_K005_SLATE, pSlate], [AUG_K005_CUP, pMag], [AUG_K005_CU0, pCu0],
  ]);
  series.push(baseLine(AUG_K005_BASE, 907, 926, L, "rgba(150,40,190,0.85)", 5));
  stackComps(AUG_K10_BASE, [
    [AUG_K10_FAINT, pPurple], [AUG_K10_GRAYBLUE, ["rgba(120,130,195,0.45)", "rgba(100,110,180,0.65)"]],
    [AUG_K10_BLUEB, ["rgba(50,80,215,0.55)", "rgba(40,70,200,0.75)"]],
    [AUG_K10_LB1, ["rgba(130,150,245,0.45)", "rgba(115,135,240,0.7)"]],
    [AUG_K10_LB2, ["rgba(140,160,245,0.40)", "rgba(120,140,240,0.65)"]],
    [AUG_K10_SLATE, ["rgba(60,75,160,0.55)", "rgba(45,60,150,0.75)"]],
    [AUG_K10_CU0, ["rgba(110,140,248,0.55)", "rgba(95,125,245,0.75)"]],
  ]);
  series.push(baseLine(AUG_K10_BASE, 907, 926, L, "rgba(40,70,200,0.9)", 5));
  stackComps(AUG_AP_BASE, [
    [AUG_AP_PINKS, ["rgba(245,160,160,0.35)", "rgba(238,140,140,0.6)"]],
    [AUG_AP_PINKB, ["rgba(245,160,160,0.45)", "rgba(238,140,140,0.7)"]],
    [AUG_AP_DARKRED, ["rgba(155,60,60,0.40)", "rgba(140,50,50,0.6)"]],
    [AUG_AP_RED, ["rgba(222,95,95,0.55)", "rgba(210,80,80,0.8)"]],
  ]);
  series.push(baseLine(AUG_AP_BASE, 907, 926, L, "rgba(240,130,130,0.85)", 5));

  // air curves
  series.push(line(zip(AUGER_E, AUG_AIR1), L, C_AIR1, 5));
  series.push(line(zip(AUGER_E, AUG_AIR2), L, C_AIR2, 5));
  series.push(line(zip(AUGER_E, AUG_AIR3), L, C_AIR3, 5));
  // data
  [AUG_H2O_DATA, AUG_K005_DATA, AUG_K10_DATA, AUG_AP_DATA].forEach((d) => series.push(line(zip(AUGER_E, d), L, "#000", 4.5)));
  // fits
  [AUG_H2O_FIT, AUG_K005_FIT, AUG_K10_FIT, AUG_AP_FIT].forEach((d) =>
    series.push(line(zip(AUGER_E, d), L, C_ORANGE, 6, { smooth: 0.3, ...dotted }))
  );
  // reference lines
  series.push(line(AUG_CUP_LINE, L, "#ff00ff", 2, { type: [2, 2.5] }));
  series.push(line(AUG_CU2_LINE, L, "#800000", 2, { type: [2, 2.5] }));
  series.push(line(AUG_CU0_LINE, L, "#0000ff", 2, { type: [2, 2.5] }));

  // ---- right panel ----
  const purple = ["rgba(175,110,245,0.55)", "rgba(150,80,230,0.8)"];
  const brown = ["rgba(150,45,45,0.62)", "rgba(120,30,30,0.85)"];
  series.push(comp(XPS_AP_PURPLE1, XPS_AP_BASE, R, purple[0], purple[1]));
  series.push(comp(XPS_AP_BROWN1, XPS_AP_BASE, R, brown[0], brown[1]));
  series.push(comp(XPS_AP_BROWN2, XPS_AP_BASE, R, brown[0], brown[1]));
  series.push(comp(XPS_AP_PURPLE2, XPS_AP_BASE, R, purple[0], purple[1]));
  series.push(comp(XPS_AP_PURPLE3, XPS_AP_BASE, R, purple[0], purple[1]));
  series.push(baseLine(XPS_AP_BASE, 968, 924, R, "rgba(150,60,210,0.9)", 5));

  const blueFill = "rgba(60,80,165,0.55)";
  [[XPS_H2O_FIT, XPS_H2O_BASE], [XPS_K005_FIT, XPS_K005_BASE], [XPS_K10_FIT, XPS_K10_BASE]].forEach(([d, b]: any) => {
    series.push(line(d, R, "rgba(0,0,0,0)", 0, { area: { color: blueFill, origin: b, opacity: 1 } }));
    series.push(baseLine(b, 968, 924, R, "rgba(70,85,170,0.8)", 4));
  });

  series.push(line(XPS_AIR1, R, C_AIR1, 4.5));
  series.push(line(XPS_AIR2, R, C_AIR2, 4.5));
  series.push(line(XPS_AIR3, R, C_AIR3, 4.5));

  [XPS_H2O_DATA, XPS_K005_DATA, XPS_K10_DATA, XPS_AP_DATA].forEach((d) => series.push(line(d, R, "#000", 3.5)));
  [XPS_H2O_FIT, XPS_K005_FIT, XPS_K10_FIT].forEach((d) => series.push(line(d, R, C_NAVY, 5)));
  series.push(line(XPS_AP_FIT, R, "#3a0a0a", 5));
  [XPS_H2O_FIT, XPS_K005_FIT, XPS_K10_FIT, XPS_AP_FIT].forEach((d) =>
    series.push(line(d, R, C_ORANGE, 4, { type: [15, 6, 3, 6], cap: "butt" }))
  );
  series.push(line(XPS_2P12_LINE, R, "#0000ff", 2, { type: [2, 2.5] }));

  series.push({
    type: "lines", coordinateSystem: "cartesian2d", xAxisIndex: R, yAxisIndex: R, silent: true,
    symbol: ["none", "arrow"], symbolSize: 17,
    lineStyle: { color: "#0000ff", width: 2.5, opacity: 1 },
    data: [{ coords: XPS_ARROW_CU0 }],
  });
  series.push({
    type: "lines", coordinateSystem: "cartesian2d", xAxisIndex: R, yAxisIndex: R, silent: true,
    symbol: ["none", "arrow"], symbolSize: 17,
    lineStyle: { color: "#800000", width: 2.5, opacity: 1 },
    data: [{ coords: XPS_ARROW_CU2 }],
  });

  const axisTick = (vals: number[]) => ({ show: true, length: 14, inside: false, lineStyle: { color: "#000", width: 5 }, customValues: vals });

  const graphic: any[] = [
    // left panel texts
    T("Cu Auger", 122, 130, 58),
    RT("{m|Cu}{s|+}", 524.5, 129, 36, "#ff00ff", supRich(36, "#ff00ff")),
    RT("{m|Cu}{s|2+}", 571.5, 158, 36, "#800000", supRich(36, "#800000")),
    RT("{m|Cu}{s|0}", 625, 143, 36, "#0000ff", supRich(36, "#0000ff")),
    T("Air", 861, 275, 37, C_AIR1),
    T("Air", 861, 516, 37, C_AIR2),
    T("Air", 866, 753, 37, C_AIR3),
    T("{m|H}{s|2}{m|O}", 119, 397, 39, "#000", subRich(39, "#000", 1.38)),
    T("0.05 M KOH", 116, 620, 40),
    T("1.0 M KOH", 116, 877, 40),
    T("as-prepared", 113, 1202, 40),
    RT("Intensity (a.u)", 54, 643, 54, "#000", {}, "center"),
    CT("Kinetic Energy (eV)", 538, 1362, 52),
    // right panel texts
    T("Cu 2p", 1048, 121, 58),
    T("{m|2p}{s|1/2}", 1309, 192, 41, "#000", subRich(41, "#000")),
    T("{m|2p}{s|3/2}", 1703, 107, 41, "#000", subRich(41, "#000")),
    T("Air", 1760, 313, 37, C_AIR1),
    T("Air", 1765, 609, 37, C_AIR2),
    T("Air", 1763, 863, 37, "#4e7a1e"),
    T("@3.2V", 1417, 391, 39),
    T("@3.2V", 1411, 690, 39),
    T("@3.2V", 1410, 948, 39),
    T("{m|H}{s|2}{m|O}", 1041, 450, 39, "#000", subRich(39, "#000", 1.38)),
    T("0.05 M KOH", 1044, 757, 40),
    T("1.0 M KOH", 1044, 1017, 40),
    T("as-prepared", 1048, 1212, 40),
    T("{b|Cu}{bs|0}{b|& }{m|Cu}{ms|+}", 1495, 798, 39, "#0000ff", {
      b: { fontSize: 39, fontFamily: FONT, fill: "#0000ff", lineHeight: 39 * 1.2, verticalAlign: "middle" },
      bs: { fontSize: 39 * 0.65, fontFamily: FONT, fill: "#0000ff", lineHeight: 39 * 0.65, verticalAlign: "top" },
      m: { fontSize: 39, fontFamily: FONT, fill: "#ff00ff", lineHeight: 39 * 1.2, verticalAlign: "middle" },
      ms: { fontSize: 39 * 0.65, fontFamily: FONT, fill: "#ff00ff", lineHeight: 39 * 0.65, verticalAlign: "top" },
    }),
    T("{m|Cu}{s|2+}", 1730, 1050, 40, "#800000", supRich(40, "#800000")),
    RT("Intensity (a.u)", 984, 620, 54, "#000", {}, "center"),
    CT("Binding Energy (eV)", 1476, 1355, 50),
  ];

  return {
    animation: false,
    backgroundColor: "#ffffff",
    grid: [
      { left: 100, top: 51, width: 829, height: 1190.25, show: true, borderColor: "#000", borderWidth: 5, backgroundColor: "rgba(0,0,0,0)" },
      { left: 1034, top: 44, width: 813, height: 1187.5, show: true, borderColor: "#000", borderWidth: 5, backgroundColor: "rgba(0,0,0,0)" },
    ],
    xAxis: [
      {
        gridIndex: 0, type: "value", min: 907, max: 926, position: "bottom",
        axisLine: { show: false, onZero: false }, splitLine: { show: false },
        axisTick: axisTick(AUGER_TICKS),
        axisLabel: { show: true, customValues: AUGER_TICKS, fontSize: 39, fontFamily: FONT, color: "#000", margin: 27 },
      },
      {
        gridIndex: 1, type: "value", min: 924, max: 968, inverse: true, position: "bottom",
        axisLine: { show: false, onZero: false }, splitLine: { show: false },
        axisTick: axisTick(XPS_TICKS),
        axisLabel: { show: true, customValues: XPS_TICKS, fontSize: 38, fontFamily: FONT, color: "#000", margin: 26 },
      },
    ],
    yAxis: [
      {
        gridIndex: 0, type: "value", min: -0.5, max: 6.094,
        axisLine: { show: false, onZero: false }, splitLine: { show: false },
        axisTick: axisTick(AUGER_YTICKS), axisLabel: { show: false },
      },
      {
        gridIndex: 1, type: "value", min: -0.5, max: 9,
        axisLine: { show: false, onZero: false }, splitLine: { show: false },
        axisTick: axisTick(XPS_YTICKS), axisLabel: { show: false },
      },
    ],
    series,
    graphic: { elements: graphic },
  };
}

export default function App() {
  const ref = useRef<HTMLDivElement>(null);
  useEffect(() => {
    if (!ref.current) return;
    const chart = echarts.init(ref.current, undefined, { renderer: "svg" });
    chart.setOption(buildOption() as any);
    return () => chart.dispose();
  }, []);
  return (
    <div
      ref={ref}
      style={{ position: "absolute", left: 0, top: 0, width: 1824, height: 1376, background: "#ffffff" }}
    />
  );
}
